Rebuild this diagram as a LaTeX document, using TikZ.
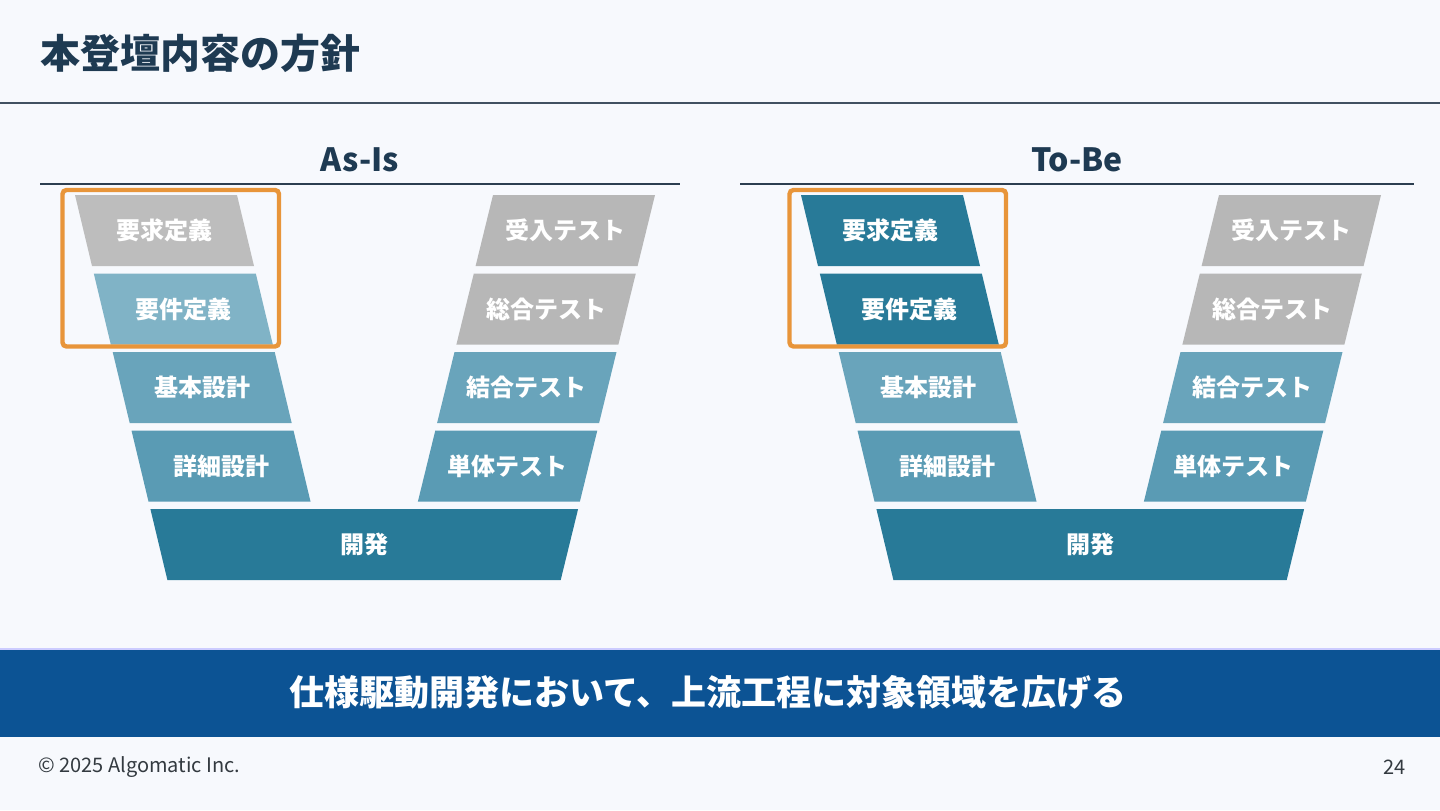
\documentclass[tikz,border=0pt]{standalone}
\usepackage{fontspec}
\setmainfont{Noto Sans CJK JP}
\usepackage{tikz}
\usetikzlibrary{calc}
\definecolor{slidebg}{HTML}{F7F9FD}
\definecolor{titleink}{HTML}{1E3A52}
\definecolor{ruleink}{HTML}{2C3E50}
\definecolor{vgray}{HTML}{BDBDBD}
\definecolor{vgraydark}{HTML}{B7B7B7}
\definecolor{vpale}{HTML}{80B3C6}
\definecolor{vlight}{HTML}{69A4BB}
\definecolor{vmid}{HTML}{5A9BB4}
\definecolor{vdeep}{HTML}{287A98}
\definecolor{hlorange}{HTML}{E8953A}
\definecolor{bannerblue}{HTML}{0C5394}
\definecolor{footink}{HTML}{333A40}

\tikzset{
  barlabel/.style={text=white,font=\fontsize{12}{14}\selectfont\bfseries,inner sep=0pt},
  heading/.style={text=titleink,font=\fontsize{16}{19}\selectfont\bfseries,inner sep=0pt},
  panelrule/.style={draw=ruleink,line width=1pt},
  hlbox/.style={draw=hlorange,line width=2.2pt,rounded corners=2pt},
}
% one slanted stage bar: name, top-left corner, bottom shift, fill, label
\newcommand{\stagebar}[5]{%
  \fill[#4] (#2) -- ++(162,0) -- ++(#3,71) -- ++(-162,0) -- cycle;
  \node[barlabel] (#1) at ($(#2)+(81+#3/2,35.5)$) {#5};}

\begin{document}
\begin{tikzpicture}[x=0.5pt,y=-0.5pt]
  \fill[slidebg] (0,0) rectangle (1440,810);
  \useasboundingbox (0,0) rectangle (1440,810);

  % title
  \node[anchor=west,inner sep=0pt,text=titleink,font=\fontsize{20}{24}\selectfont\bfseries] (title) at (40,53) {本登壇内容の方針};
  \draw[ruleink!90,line width=1pt] (0,103) -- (1440,103);

  % As-Is
  \node[heading] (asis) at (360,160) {As-Is};
  \draw[panelrule] (40,184) -- (680,184);
  \stagebar{asis-req}{75,195}{17}{vgray}{要求定義}
  \stagebar{asis-spec}{93.8,273.5}{17}{vpale}{要件定義}
  \stagebar{asis-basic}{112.7,352}{17}{vlight}{基本設計}
  \stagebar{asis-detail}{131.5,430.5}{17}{vmid}{詳細設計}
  \stagebar{asis-accept}{493,195}{-17.4}{vgraydark}{受入テスト}
  \stagebar{asis-system}{473.8,273.5}{-17.4}{vgraydark}{総合テスト}
  \stagebar{asis-integ}{454.5,352}{-17.4}{vlight}{結合テスト}
  \stagebar{asis-unit}{435.3,430.5}{-17.4}{vmid}{単体テスト}
  \fill[vdeep] (150.4,509) -- (578.1,509) -- (560.7,580) -- (167.4,580) -- cycle;
  \node[barlabel] (asis-dev) at (364,544.5) {開発};
  \draw[hlbox] (62.5,190) rectangle (279,346.5);

  % To-Be
  \node[heading] (tobe) at (1077,160) {To-Be};
  \draw[panelrule] (740,184) -- (1414,184);
  \begin{scope}[shift={(726,0)}]
    \stagebar{tobe-req}{75,195}{17}{vdeep}{要求定義}
    \stagebar{tobe-spec}{93.8,273.5}{17}{vdeep}{要件定義}
    \stagebar{tobe-basic}{112.7,352}{17}{vlight}{基本設計}
    \stagebar{tobe-detail}{131.5,430.5}{17}{vmid}{詳細設計}
    \stagebar{tobe-accept}{493,195}{-17.4}{vgraydark}{受入テスト}
    \stagebar{tobe-system}{473.8,273.5}{-17.4}{vgraydark}{総合テスト}
    \stagebar{tobe-integ}{454.5,352}{-17.4}{vlight}{結合テスト}
    \stagebar{tobe-unit}{435.3,430.5}{-17.4}{vmid}{単体テスト}
    \fill[vdeep] (150.4,509) -- (578.1,509) -- (560.7,580) -- (167.4,580) -- cycle;
    \node[barlabel] (tobe-dev) at (364,544.5) {開発};
    \draw[hlbox] (63.5,190) rectangle (280,346.5);
  \end{scope}

  % banner
  \draw[blue!20,line width=0.8pt] (0,649) -- (1440,649);
  \fill[bannerblue] (0,650) rectangle (1440,737);
  \node[text=white,inner sep=0pt,font=\fontsize{17.5}{21}\selectfont\bfseries] (message) at (708,692) {仕様駆動開発において、上流工程に対象領域を広げる};

  % footer
  \node[anchor=west,inner sep=0pt,text=footink,font=\fontsize{10}{12}\selectfont] (copyright) at (38,767) {© 2025 Algomatic Inc.};
  \node[anchor=east,inner sep=0pt,text=footink,font=\fontsize{10}{12}\selectfont] (pageno) at (1406,767) {24};
\end{tikzpicture}
\end{document}
